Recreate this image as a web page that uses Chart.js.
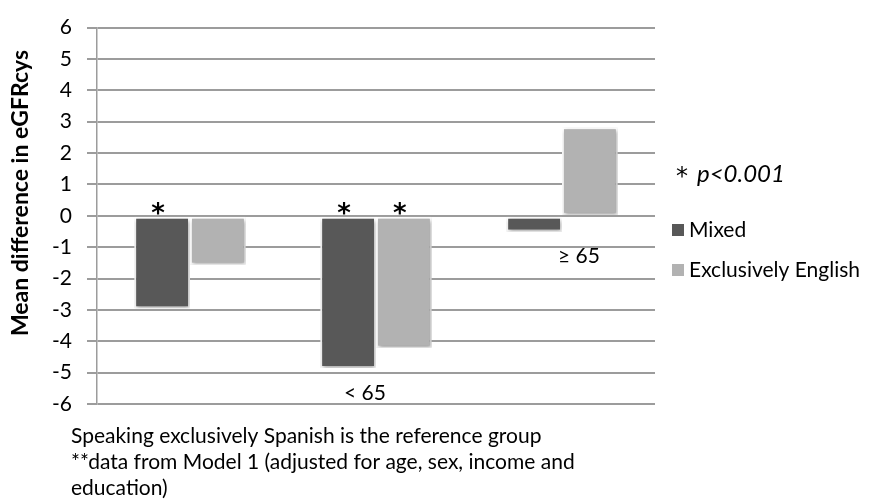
<!DOCTYPE html>
<html lang="en">
<head>
  <meta charset="UTF-8" />
  <title>Mean difference in eGFRcys</title>
  <script src="https://cdn.jsdelivr.net/npm/chart.js"></script>
  <style>
    body {
      margin: 0;
      background-color: #ffffff;
    }
    #wrap {
      width: 877px;
      height: 502px;
    }
  </style>
</head>
<body>
  <div id="wrap">
    <canvas id="eGFR" width="877" height="502"></canvas>
  </div>

  <script>
    // data
    const ageGroups = ["", "< 65", "\u2265 65"];
    const mixedValues = [-2.95, -4.85, -0.5];
    const englishValues = [-1.55, -4.2, 2.82];
    const mixedSignificant = [true, true, false];
    const englishSignificant = [false, true, false];
    const yTicks = [-6, -5, -4, -3, -2, -1, 0, 1, 2, 3, 4, 5, 6];
    const footNotes = [
      "Speaking exclusively Spanish is the reference group",
      "**data from Model 1 (adjusted for age, sex, income and",
      "education)"
    ];

    const FONT = "Lato, 'Open Sans', sans-serif";
    const MIXED_COLOR = "#585858";
    const ENGLISH_COLOR = "#b2b2b2";

    // soft shadow under the bars like the original
    const barShadow = {
      id: "barShadow",
      beforeDatasetsDraw(chart) {
        const ctx = chart.ctx;
        ctx.save();
        ctx.shadowColor = "rgba(0,0,0,0.35)";
        ctx.shadowBlur = 4;
        ctx.shadowOffsetX = 1;
        ctx.shadowOffsetY = 2;
      },
      afterDatasetsDraw(chart) {
        chart.ctx.restore();
      }
    };

    const extras = {
      id: "extras",
      afterDraw(chart) {
        const ctx = chart.ctx;
        const y = chart.scales.y;
        const x = chart.scales.x;
        const zero = y.getPixelForValue(0);
        ctx.save();
        ctx.fillStyle = "#000";

        // significance stars
        ctx.font = "bold 26px 'DejaVu Sans', sans-serif";
        ctx.textAlign = "center";
        ctx.textBaseline = "alphabetic";
        [mixedSignificant, englishSignificant].forEach((sig, d) => {
          const meta = chart.getDatasetMeta(d);
          sig.forEach((s, i) => {
            if (s) ctx.fillText("*", meta.data[i].x - 4, zero + 6);
          });
        });

        // age group labels under the lowest bar
        ctx.font = "21px " + FONT;
        ctx.textBaseline = "middle";
        const labelShift = [0, -11, 17];
        ageGroups.forEach((g, i) => {
          if (!g) return;
          const low = Math.min(mixedValues[i], englishValues[i]);
          const cx = x.getPixelForValue(i) + labelShift[i];
          ctx.fillText(g, cx, y.getPixelForValue(low) + 25);
        });

        // y axis title
        ctx.save();
        ctx.translate(21, 193);
        ctx.rotate(-Math.PI / 2);
        ctx.font = "bold 23px " + FONT;
        ctx.textAlign = "center";
        ctx.fillText("Mean difference in eGFRcys", 0, 0);
        ctx.restore();

        // legend
        ctx.textAlign = "left";
        ctx.font = "24px 'DejaVu Sans', sans-serif";
        ctx.fillText("*", 676, 178);
        ctx.font = "italic 24px " + FONT;
        ctx.fillText("p<0.001", 697, 174);
        ctx.font = "21px " + FONT;
        chart.data.datasets.forEach((ds, i) => {
          const ly = 230 + i * 40;
          ctx.fillStyle = ds.backgroundColor;
          ctx.fillRect(672, ly - 6, 12, 12);
          ctx.fillStyle = "#000";
          ctx.fillText(ds.label, 689, ly);
        });

        // footnotes
        ctx.font = "21px " + FONT;
        footNotes.forEach((t, i) => ctx.fillText(t, 71, 436 + i * 26));
        ctx.restore();
      }
    };

    new Chart(document.getElementById("eGFR").getContext("2d"), {
      type: "bar",
      data: {
        labels: ageGroups,
        datasets: [
          {
            label: "Mixed",
            data: mixedValues,
            backgroundColor: MIXED_COLOR,
            borderColor: "#ffffff",
            borderWidth: 2,
            borderSkipped: false
          },
          {
            label: "Exclusively English",
            data: englishValues,
            backgroundColor: ENGLISH_COLOR,
            borderColor: "#ffffff",
            borderWidth: 2,
            borderSkipped: false
          }
        ]
      },
      options: {
        responsive: false,
        animation: false,
        devicePixelRatio: 1,
        categoryPercentage: 0.6,
        barPercentage: 1,
        layout: { padding: { left: 0, top: 23, right: 222, bottom: 98 } },
        plugins: {
          legend: { display: false },
          tooltip: { enabled: false }
        },
        scales: {
          x: { display: false },
          y: {
            min: -6,
            max: 6,
            afterFit(scale) { scale.width = 97; },
            afterBuildTicks(scale) { scale.ticks = yTicks.map(v => ({ value: v })); },
            ticks: {
              color: "#000",
              padding: 15,
              font: { family: FONT, size: 21 }
            },
            grid: {
              color: "#9c9c9c",
              lineWidth: 2,
              tickLength: 10,
              drawTicks: true
            },
            border: { color: "#9c9c9c", width: 1.5 }
          }
        }
      },
      plugins: [barShadow, extras]
    });
  </script>
</body>
</html>
